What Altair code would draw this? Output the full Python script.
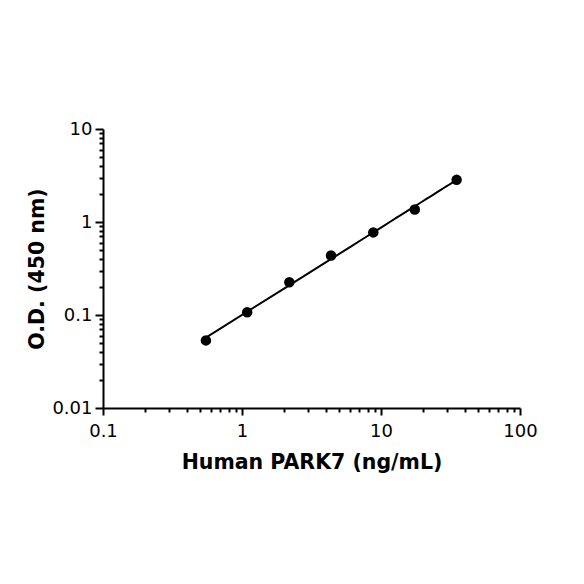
import altair as alt
import pandas as pd

conc = [0.55, 1.09, 2.19, 4.37, 8.8, 17.5, 35.0]
od = [0.0533, 0.107, 0.225, 0.437, 0.773, 1.36, 2.84]

x_ticks = [0.1, 0.2, 0.3, 0.4, 0.5, 0.6, 0.7, 0.8, 0.9,
           1, 2, 3, 4, 5, 6, 7, 8, 9,
           10, 20, 30, 40, 50, 60, 70, 80, 90, 100]
x_major = [0.1, 1, 10, 100]
y_ticks = [0.01, 0.02, 0.03, 0.04, 0.05, 0.06, 0.07, 0.08, 0.09,
           0.1, 0.2, 0.3, 0.4, 0.5, 0.6, 0.7, 0.8, 0.9,
           1, 2, 3, 4, 5, 6, 7, 8, 9, 10]
y_major = [0.01, 0.1, 1, 10]

df = pd.DataFrame({"x": conc, "y": od})

FONT = "DejaVu Sans"


def major_test(majors):
    return "indexof([" + ",".join(str(m) for m in majors) + "], datum.value) >= 0"


x_axis = alt.Axis(
    values=x_ticks,
    format="~g",
    labelExpr=major_test(x_major) + " ? datum.label : ''",
    tickSize={"condition": {"test": major_test(x_major), "value": 7}, "value": 4},
    tickWidth=2, domainWidth=2, domainColor="black", tickColor="black",
    labelFont=FONT, labelFontSize=18, labelColor="black", labelPadding=7,
    labelOverlap=False, labelFlush=False, labelBound=False,
    title="Human PARK7 (ng/mL)", titleFont=FONT, titleFontSize=20.5,
    titleFontWeight="bold", titleColor="black", titlePadding=12,
    grid=False,
)
y_axis = alt.Axis(
    values=y_ticks,
    format="~g",
    labelExpr=major_test(y_major) + " ? datum.label : ''",
    tickSize={"condition": {"test": major_test(y_major), "value": 8}, "value": 4},
    tickWidth=2, domainWidth=2, domainColor="black", tickColor="black",
    labelFont=FONT, labelFontSize=18, labelColor="black", labelPadding=3,
    labelOverlap=False, labelFlush=False, labelBound=False,
    title="O.D. (450 nm)", titleFont=FONT, titleFontSize=20.5,
    titleFontWeight="bold", titleColor="black", titlePadding=4,
    grid=False,
)

xs = alt.Scale(type="log", domain=[0.1, 100], nice=False)
ys = alt.Scale(type="log", domain=[0.01, 10], nice=False)

base = alt.Chart(df)

line = base.transform_regression("x", "y", method="pow").mark_line(
    color="black", strokeWidth=2
).encode(
    x=alt.X("x:Q", scale=xs, axis=x_axis),
    y=alt.Y("y:Q", scale=ys, axis=y_axis),
)

points = base.mark_circle(color="black", opacity=1, size=110).encode(
    x=alt.X("x:Q", scale=xs),
    y=alt.Y("y:Q", scale=ys),
)

chart = alt.layer(line, points).properties(
    width=417,
    height=279,
    autosize=alt.AutoSizeParams(type="none"),
    padding={"left": 95, "top": 121, "right": 50, "bottom": 100},
).configure_view(stroke=None)

chart.save("out.html", embed_options={"renderer": "svg", "actions": False})
